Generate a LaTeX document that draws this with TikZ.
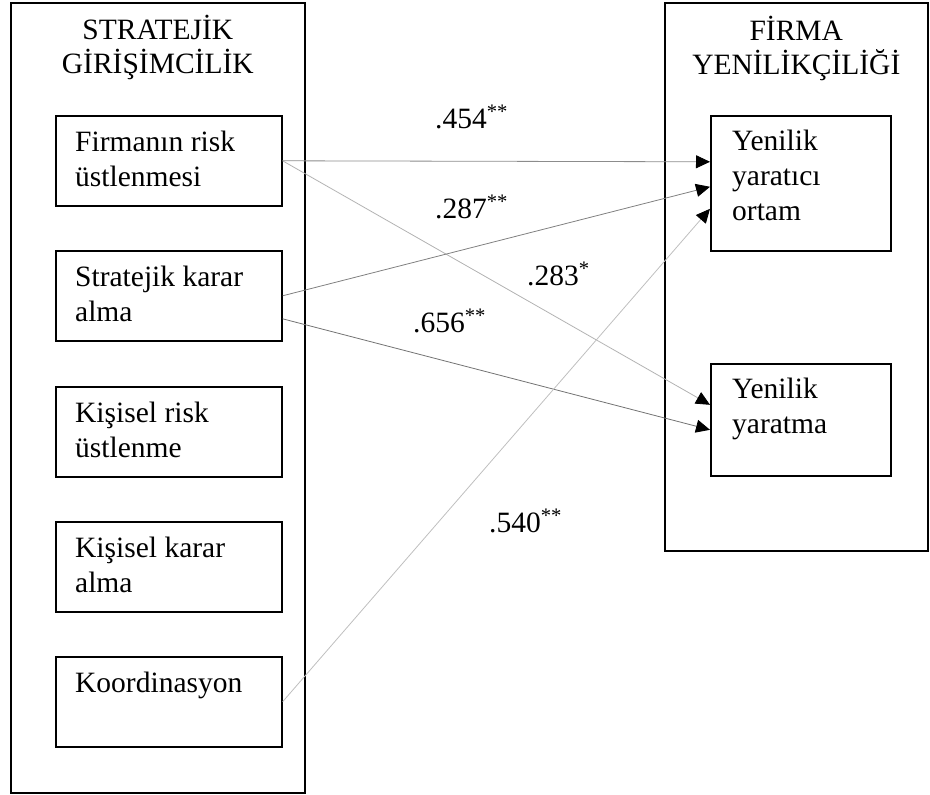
\documentclass[tikz,border=0pt]{standalone}
\usepackage{fontspec}
\setmainfont{Liberation Serif}
\usetikzlibrary{arrows.meta,positioning}
\tikzset{>=Stealth}
\tikzset{
    frame/.style={draw,line width=1.6pt,inner sep=0pt,anchor=north west},
    item/.style={frame,minimum width=226pt,minimum height=90pt},
    ttl/.style={align=center,inner sep=0pt,anchor=base,font=\fontsize{29.5}{34}\selectfont},
    txt/.style={align=left,inner sep=0pt,anchor=base west,font=\fontsize{29.5}{35}\selectfont},
    coef/.style={inner sep=0pt,anchor=base west,font=\fontsize{29.5}{35}\selectfont},
    link/.style={-{Triangle[black,length=14pt,width=13pt]},line width=0.8pt}
}

\begin{document}
\begin{tikzpicture}[x=1pt,y=-1pt]
    \useasboundingbox (0,0) rectangle (930,795);
    % outer frames (text anchors sit on the last line)
    \node[frame,minimum width=294pt,minimum height=790pt] (sg) at (10,2) {};
    \node[frame,minimum width=263pt,minimum height=548pt] (fy) at (664,2) {};
    \node[ttl] (sgt) at ([yshift=-71pt]sg.north) {STRATEJİK\\GİRİŞİMCİLİK};
    \node[ttl] (fyt) at ([yshift=-72pt]fy.north) {FİRMA\\YENİLİKÇİLİĞİ};
    % left items
    \node[item] (risk) at (55,115) {};
    \node[item] (karar) at (55,250) {};
    \node[item] (krisk) at (55,386) {};
    \node[item] (kkarar) at (55,521) {};
    \node[item] (koord) at (55,656) {};
    \node[txt] (trisk) at ([shift={(20pt,-71pt)}]risk.north west) {Firmanın risk\\üstlenmesi};
    \node[txt] (tkarar) at ([shift={(20pt,-71pt)}]karar.north west) {Stratejik karar\\alma};
    \node[txt] (tkrisk) at ([shift={(20pt,-71pt)}]krisk.north west) {Kişisel risk\\üstlenme};
    \node[txt] (tkkarar) at ([shift={(20pt,-71pt)}]kkarar.north west) {Kişisel karar\\alma};
    \node[txt] (tkoord) at ([shift={(20pt,-36pt)}]koord.north west) {Koordinasyon};
    % right items
    \node[frame,minimum width=180pt,minimum height=135pt] (ortam) at (710,115) {};
    \node[frame,minimum width=180pt,minimum height=112pt] (yarat) at (710,363) {};
    \node[txt] (tortam) at ([shift={(22pt,-105pt)}]ortam.north west) {Yenilik\\yaratıcı\\ortam};
    \node[txt] (tyarat) at ([shift={(22pt,-70pt)}]yarat.north west) {Yenilik\\yaratma};
    % arrow ends
    \coordinate (o1) at ([yshift=21.5pt]ortam.west);
    \coordinate (o2) at ([yshift=-3.5pt]ortam.west);
    \coordinate (o3) at ([yshift=-25.5pt]ortam.west);
    \coordinate (y1) at ([yshift=15pt]yarat.west);
    \coordinate (y2) at ([yshift=-10pt]yarat.west);
    \coordinate (k2) at ([yshift=-23pt]karar.east);
    \draw[link,black!45] (risk.east) -- (o1);
    \draw[link,black!30] (risk.east) -- (y1);
    \draw[link,black!50] (karar.east) -- (o2);
    \draw[link,black!55] (k2) -- (y2);
    \draw[link,black!25] (koord.east) -- (o3);
    % coefficients
    \node[coef] (c454) at (435,128) {.454\textsuperscript{**}};
    \node[coef] (c287) at (435,218) {.287\textsuperscript{**}};
    \node[coef] (c283) at (527,285) {.283\textsuperscript{*}};
    \node[coef] (c656) at (413,332) {.656\textsuperscript{**}};
    \node[coef] (c540) at (489,532) {.540\textsuperscript{**}};
\end{tikzpicture}
\end{document}
